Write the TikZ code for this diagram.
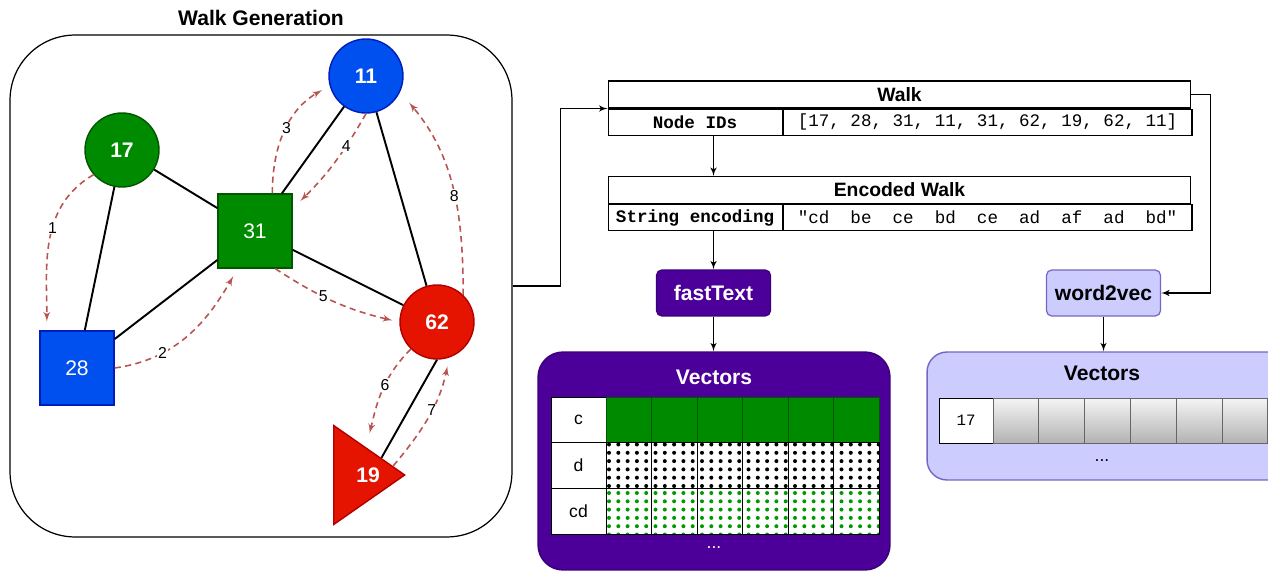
\documentclass[tikz,border=0pt]{standalone}
\usepackage{fontspec}
\setmainfont{Liberation Sans}
\setmonofont{Liberation Mono}
\usetikzlibrary{shapes.geometric, arrows, calc}
\definecolor{gfill}{HTML}{008A00}
\definecolor{gline}{HTML}{005700}
\definecolor{bfill}{HTML}{0050EF}
\definecolor{bline}{HTML}{001DBC}
\definecolor{rfill}{HTML}{E51400}
\definecolor{rline}{HTML}{B20000}
\definecolor{walkred}{HTML}{B85450}
\definecolor{ftfill}{HTML}{4C0099}
\definecolor{ftline}{HTML}{3A0078}
\definecolor{wvfill}{HTML}{CCCCFF}
\definecolor{wvline}{HTML}{7466C2}
\definecolor{dotgreen}{HTML}{009A00}
\tikzstyle{gcircle} = [circle, draw, line width=0.8pt, minimum size=1.48cm,
    inner sep=0pt, text=white, font=\fontsize{12}{14}\selectfont\bfseries]
\tikzstyle{gsquare} = [rectangle, draw, line width=0.8pt, minimum size=1.48cm,
    inner sep=0pt, text=white, font=\fontsize{12}{14}\selectfont]
\tikzstyle{gtriangle} = [isosceles triangle, isosceles triangle stretches,
    draw=rline, fill=rfill, line width=0.8pt, minimum width=1.98cm,
    minimum height=1.42cm, inner sep=0pt]
\tikzstyle{edge} = [draw, line width=1.1pt]
\tikzstyle{walk} = [draw=walkred, line width=0.9pt, dash pattern=on 3.5pt off 2.5pt,
    -latex', shorten >=5pt]
\tikzstyle{num} = [fill=white, inner sep=0.6pt, font=\fontsize{9}{10}\selectfont]
\tikzstyle{line} = [draw, line width=0.7pt, -latex']
\tikzstyle{hcell} = [rectangle, draw, line width=0.6pt, minimum width=11.66cm,
    minimum height=0.54cm, inner sep=0pt, font=\fontsize{11}{13}\selectfont\bfseries]
\tikzstyle{kcell} = [rectangle, draw, line width=0.6pt, minimum width=3.48cm,
    minimum height=0.52cm, inner sep=0pt, font=\fontsize{10}{12}\selectfont\ttfamily\bfseries]
\tikzstyle{vcell} = [rectangle, draw, line width=0.6pt, minimum width=8.18cm,
    minimum height=0.52cm, inner sep=0pt, font=\fontsize{10}{12}\selectfont\ttfamily]
\tikzstyle{model} = [rectangle, draw, rounded corners=3pt, line width=0.7pt,
    minimum width=2.28cm, minimum height=0.92cm, font=\fontsize{12}{14}\selectfont\bfseries]
\tikzstyle{vecbox} = [rectangle, draw, rounded corners=0.5cm, line width=0.8pt, inner sep=0pt]
\tikzstyle{lcell} = [rectangle, draw, fill=white, line width=0.5pt, minimum width=1.1cm,
    minimum height=0.913cm, inner sep=0pt, font=\fontsize{10}{12}\selectfont]
\tikzstyle{dcell} = [rectangle, draw, line width=0.4pt, minimum width=0.91cm,
    minimum height=0.913cm, inner sep=0pt]

\begin{document}
\begin{tikzpicture}[x=0.02cm, y=0.02cm]
    \useasboundingbox (0,0) rectangle (1268,-571);
    \clip (0,0) rectangle (1268,-571);
    % Walk generation graph
    \node [font=\fontsize{12}{14}\selectfont\bfseries] (title) at (261,-18) {Walk Generation};
    \node [draw, line width=0.7pt, rounded corners=1.3cm, minimum width=10.04cm,
        minimum height=10.04cm] (walkbox) at (261,-286) {};
    \node [gcircle, fill=gfill, draw=gline] (n17) at (122,-150) {17};
    \node [gcircle, fill=bfill, draw=bline] (n11) at (366,-76) {11};
    \node [gsquare, fill=gfill, draw=gline] (n31) at (255,-231) {31};
    \node [gsquare, fill=bfill, draw=bline] (n28) at (77,-368) {28};
    \node [gcircle, fill=rfill, draw=rline] (n62) at (437,-322) {62};
    \node [gtriangle, anchor=lower side] (n19) at (333,-475) {};
    \node [text=white, font=\fontsize{12}{14}\selectfont\bfseries] (n19text)
        at ($(n19.lower side)+(35,0)$) {19};
    % Graph edges
    \path [edge] (n17) -- (n31);
    \path [edge] (n17) -- (n28);
    \path [edge] (n31) -- (n11);
    \path [edge] (n31) -- (n28);
    \path [edge] (n31) -- (n62);
    \path [edge] (n11) -- (n62);
    \path [edge] (n62.south) -- ($(n19.left corner)!0.66!(n19.apex)$);
    % The walk
    \path [walk] (n17.221) to[out=210, in=90] node [num, pos=0.42] {1}
        ($(n28.north west)!0.1!(n28.north east)$);
    \path [walk] (n28.east) to[out=8, in=240] node [num, pos=0.3] {2}
        ($(n31.south west)!0.27!(n31.south east)$);
    \path [walk] ($(n31.north west)!0.73!(n31.north east)$) to[out=90, in=210]
        node [num, pos=0.52] {3} (n11.195);
    \path [walk, shorten >=6pt] (n11.south) to[bend left=8] node [num, pos=0.3] {4}
        ($(n31.north east)!0.2!(n31.south east)$);
    \path [walk, shorten >=4pt] ($(n31.south west)!0.77!(n31.south east)$) to[bend right=10]
        node [num, pos=0.4] {5} (n62.west);
    \path [walk, shorten >=8pt] (n62.226) to[out=225, in=76] node [num, pos=0.4] {6}
        ($(n19.left corner)!0.45!(n19.apex)$);
    \path [walk] ($(n19.left corner)!0.82!(n19.apex)$) to[out=50, in=258]
        node [num, pos=0.55] {7} (n62.289);
    \path [walk, shorten >=8pt] (n62.46) to[out=90, in=310] node [num, pos=0.45] {8} (n11.335);
    % Walk tables
    \node [hcell] (walkhead) at (899.5,-94.5) {Walk};
    \node [kcell, anchor=north west] (walkkey) at (walkhead.south west) {Node IDs};
    \node [vcell, anchor=north west] (walkval) at (walkkey.north east)
        {[17, 28, 31, 11, 31, 62, 19, 62, 11]};
    \node [hcell] (enchead) at (899.5,-190) {Encoded Walk};
    \node [kcell, anchor=north west] (enckey) at (enchead.south west) {String encoding};
    \node [vcell, anchor=north west] (encval) at (enckey.north east)
        {"cd~~be~~ce~~bd~~ce~~ad~~af~~ad~~bd"};
    % Models
    \node [model, fill=ftfill, draw=ftline, text=white] (fasttext) at (713.5,-293) {fastText};
    \node [model, fill=wvfill, draw=wvline] (w2v) at (1103.5,-293) {word2vec};
    % fastText vectors
    \node [vecbox, fill=ftfill, draw=ftline, minimum width=7.04cm, minimum height=4.36cm]
        (ftvec) at (714,-461) {};
    \node [font=\fontsize{12}{14}\selectfont\bfseries, text=white] (fttitle) at (714,-377) {Vectors};
    \foreach \lab [count=\r] in {c,d,cd}
        \node [lcell] (lab\r) at (578.5,{-(374.13+45.67*\r)}) {\lab};
    \foreach \c in {0,...,5}
        \node [dcell, fill=gfill, draw=gline] (cc\c) at ({628.75+45.5*\c},-419.8) {};
    \fill [white] (606,-442) rectangle (879,-534);
    \begin{scope}
        \clip (606,-442) rectangle (879,-488);
        \foreach \i in {0,...,29}
            \foreach \j in {0,...,5}
                \fill ({609+9.3*\i},{-(444.5+8.3*\j)}) circle [radius=0.04cm];
    \end{scope}
    \begin{scope}
        \clip (606,-488) rectangle (879,-534);
        \foreach \i in {0,...,29}
            \foreach \j in {0,...,5}
                \fill [dotgreen] ({609+9.3*\i},{-(493+8.3*\j)}) circle [radius=0.04cm];
    \end{scope}
    \foreach \c in {0,...,5} {
        \node [dcell] (cd\c) at ({628.75+45.5*\c},-465.5) {};
        \node [dcell] (ccd\c) at ({628.75+45.5*\c},-511.2) {};
    }
    \node [text=white, font=\fontsize{10}{12}\selectfont] (ftdots) at (714,-548) {...};
    % word2vec vectors
    \node [vecbox, fill=wvfill, draw=wvline, rounded corners=0.4cm, minimum width=7.46cm,
        minimum height=2.56cm] (wvvec) at (1113.5,-416) {};
    \node [font=\fontsize{12}{14}\selectfont\bfseries] (wvtitle) at (1102,-373) {Vectors};
    \node [lcell, minimum width=1.08cm, minimum height=0.9cm,
        font=\fontsize{9}{11}\selectfont\ttfamily] (wvlab) at (966,-420.5) {17};
    \foreach \c in {0,...,5}
        \node [dcell, draw=black!60, top color=black!4, bottom color=black!30,
            minimum width=0.916cm, minimum height=0.9cm] (wc\c) at ({1015.9+45.8*\c},-420.5) {};
    \node [font=\fontsize{10}{12}\selectfont] (wvdots) at (1102,-461) {...};
    % Connectors
    \path [line] (walkbox.east) -- ++(48,0) |- (walkkey.north west);
    \path [line] (walkkey.south -| fasttext) -- (enchead.north -| fasttext);
    \path [line] (enckey.south -| fasttext) -- (fasttext);
    \path [line] (fasttext) -- (ftvec.north -| fasttext);
    \path [line] (walkhead.east) -- ++(19,0) |- (w2v.east);
    \path [line] (w2v) -- (wvvec.north -| w2v);
\end{tikzpicture}
\end{document}
